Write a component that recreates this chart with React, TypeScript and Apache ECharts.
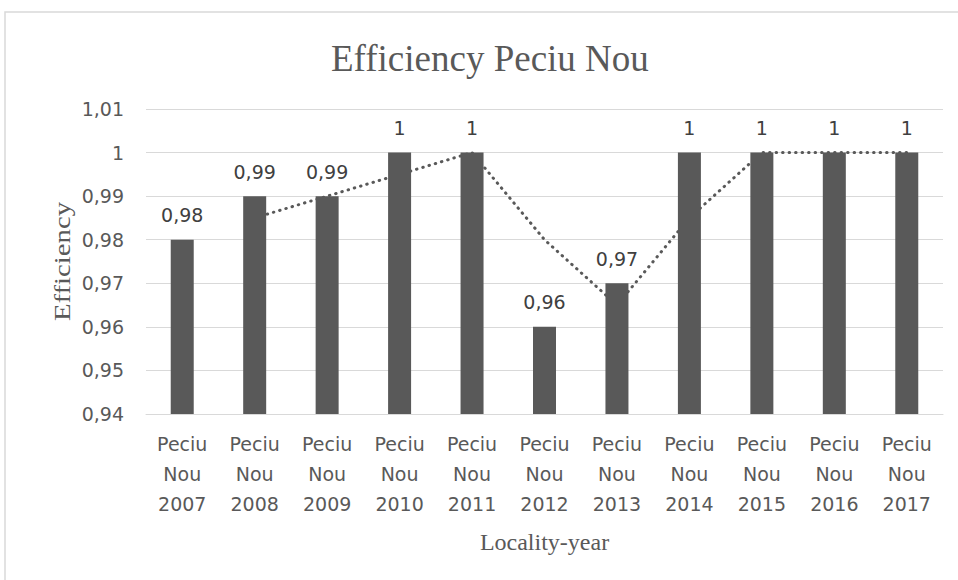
import React, { useEffect, useRef } from "react";
import * as echarts from "echarts";

const categories = [
  "Peciu\nNou\n2007", "Peciu\nNou\n2008", "Peciu\nNou\n2009", "Peciu\nNou\n2010",
  "Peciu\nNou\n2011", "Peciu\nNou\n2012", "Peciu\nNou\n2013", "Peciu\nNou\n2014",
  "Peciu\nNou\n2015", "Peciu\nNou\n2016", "Peciu\nNou\n2017",
];
const efficiency = [0.98, 0.99, 0.99, 1, 1, 0.96, 0.97, 1, 1, 1, 1];
// 2-period moving average trendline
const movingAverage = [null, 0.985, 0.99, 0.995, 1, 0.98, 0.965, 0.985, 1, 1, 1];

const fmt = (v: number) => Number(Number(v).toFixed(2)).toString().replace(".", ",");

export default function App() {
  const ref = useRef<HTMLDivElement>(null);
  useEffect(() => {
    if (!ref.current) return;
    const chart = echarts.init(ref.current, null, { renderer: "svg" });
    const sans = "DejaVu Sans";
    const serif = "Liberation Serif";
    chart.setOption({
      animation: false,
      backgroundColor: "#ffffff",
      graphic: [
        {
          type: "rect",
          shape: { x: 5, y: 12, width: 1100, height: 1000 },
          style: { fill: "none", stroke: "#d9d9d9", lineWidth: 1.5 },
          silent: true,
        },
        {
          type: "text",
          x: 62,
          y: 261.5,
          rotation: Math.PI / 2,
          scaleX: 1.25,
          style: {
            text: "Efficiency",
            fontFamily: serif,
            fontSize: 23,
            fill: "#595959",
            align: "center",
            verticalAlign: "middle",
          },
          silent: true,
        },
      ],
      title: {
        text: "Efficiency Peciu Nou",
        left: 326,
        top: 35,
        textStyle: { fontFamily: serif, fontSize: 37, fontWeight: "normal", color: "#595959" },
      },
      grid: { left: 146, right: 15, top: 109, bottom: 166 },
      xAxis: {
        type: "category",
        data: categories,
        name: "Locality-year",
        nameLocation: "middle",
        nameGap: 116,
        nameTextStyle: { fontFamily: serif, fontSize: 24, color: "#595959" },
        axisLine: { lineStyle: { color: "#d9d9d9", width: 1 } },
        axisTick: { show: false },
        axisLabel: {
          fontFamily: sans,
          fontSize: 19,
          color: "#595959",
          lineHeight: 30,
          margin: 15,
          interval: 0,
        },
      },
      yAxis: {
        type: "value",
        min: 0.94,
        max: 1.01,
        interval: 0.01,
        axisLine: { show: false },
        axisTick: { show: false },
        splitLine: { lineStyle: { color: "#d9d9d9", width: 1 } },
        axisLabel: {
          fontFamily: sans,
          fontSize: 19,
          color: "#595959",
          margin: 22,
          formatter: (v: number) => fmt(v),
        },
      },
      series: [
        {
          type: "line",
          data: movingAverage,
          z: 1,
          symbol: "none",
          connectNulls: false,
          lineStyle: { color: "#595959", width: 3, type: [0.5, 6], cap: "round" },
          silent: true,
        },
        {
          type: "bar",
          data: efficiency,
          z: 3,
          barWidth: 23,
          itemStyle: { color: "#595959" },
          label: {
            show: true,
            position: "top",
            distance: 15,
            fontFamily: sans,
            fontSize: 19,
            color: "#404040",
            formatter: (p: any) => fmt(p.value),
          },
        },
      ],
    });
    return () => chart.dispose();
  }, []);
  return (
    <div
      ref={ref}
      style={{ position: "fixed", left: 0, top: 0, width: 958, height: 580 }}
    />
  );
}
